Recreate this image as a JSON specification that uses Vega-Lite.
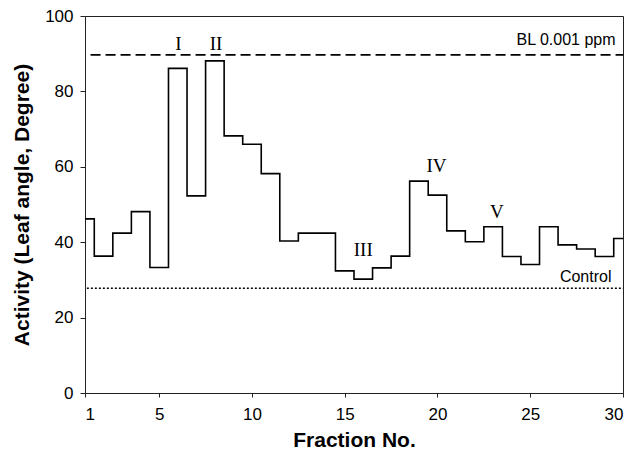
{
  "$schema": "https://vega.github.io/schema/vega-lite/v6.json",
  "autosize": {"type": "none"},
  "padding": {"left": 85, "top": 16, "right": 15, "bottom": 66},
  "width": 538,
  "height": 377,
  "background": "white",
  "config": {
    "view": {"stroke": "#222", "strokeWidth": 1},
    "axis": {
      "grid": false,
      "domainColor": "#222",
      "tickColor": "#222",
      "labelColor": "black",
      "titleColor": "black",
      "labelFont": "Liberation Sans",
      "labelFontSize": 17,
      "titleFont": "Liberation Sans",
      "titleFontSize": 21,
      "titleFontWeight": "bold"
    }
  },
  "datasets": {
    "activity": [
      {"fraction": 1, "activity": 46.2},
      {"fraction": 2, "activity": 36.3},
      {"fraction": 3, "activity": 42.4},
      {"fraction": 4, "activity": 48.1},
      {"fraction": 5, "activity": 33.3},
      {"fraction": 6, "activity": 86.1},
      {"fraction": 7, "activity": 52.3},
      {"fraction": 8, "activity": 88.1},
      {"fraction": 9, "activity": 68.2},
      {"fraction": 10, "activity": 66.0},
      {"fraction": 11, "activity": 58.2},
      {"fraction": 12, "activity": 40.3},
      {"fraction": 13, "activity": 42.4},
      {"fraction": 14, "activity": 42.4},
      {"fraction": 15, "activity": 32.4},
      {"fraction": 16, "activity": 30.2},
      {"fraction": 17, "activity": 33.2},
      {"fraction": 18, "activity": 36.3},
      {"fraction": 19, "activity": 56.2},
      {"fraction": 20, "activity": 52.5},
      {"fraction": 21, "activity": 43.0},
      {"fraction": 22, "activity": 40.1},
      {"fraction": 23, "activity": 44.1},
      {"fraction": 24, "activity": 36.2},
      {"fraction": 25, "activity": 34.1},
      {"fraction": 26, "activity": 44.1},
      {"fraction": 27, "activity": 39.3},
      {"fraction": 28, "activity": 38.2},
      {"fraction": 29, "activity": 36.2},
      {"fraction": 30, "activity": 41.0}
    ],
    "refs": [
      {"name": "BL 0.001 ppm", "start": 1.3, "end": 30, "level": 89.7},
      {"name": "Control", "start": 1.1, "end": 30, "level": 27.8}
    ],
    "peaks": [
      {"label": "I", "fraction": 6.03, "activity": 91.0},
      {"label": "II", "fraction": 8.06, "activity": 91.0},
      {"label": "III", "fraction": 16.0, "activity": 36.3},
      {"label": "IV", "fraction": 19.95, "activity": 58.7},
      {"label": "V", "fraction": 23.2, "activity": 46.3}
    ],
    "reflabels": [
      {"text": "BL 0.001 ppm", "fraction": 29.6, "activity": 92.3},
      {"text": "Control", "fraction": 29.38, "activity": 29.5}
    ]
  },
  "layer": [
    {
      "data": {"name": "activity"},
      "mark": {"type": "line", "interpolate": "step", "color": "black", "strokeWidth": 1.6},
      "encoding": {
        "x": {
          "field": "fraction",
          "type": "quantitative",
          "scale": {"domain": [1, 30], "nice": false, "zero": false},
          "axis": {
            "title": "Fraction No.",
            "values": [1, 5, 10, 15, 20, 25, 30],
            "tickSize": 4,
            "labelPadding": 9,
            "titlePadding": 7
          }
        },
        "y": {
          "field": "activity",
          "type": "quantitative",
          "scale": {"domain": [0, 100], "nice": false},
          "axis": {
            "title": "Activity (Leaf angle, Degree)",
            "values": [0, 20, 40, 60, 80, 100],
            "tickSize": 5,
            "labelPadding": 7,
            "titlePadding": 12
          }
        }
      }
    },
    {
      "data": {"name": "refs"},
      "mark": {"type": "rule", "color": "black", "strokeWidth": 1.6},
      "encoding": {
        "x": {"field": "start", "type": "quantitative"},
        "x2": {"field": "end"},
        "y": {"field": "level", "type": "quantitative"},
        "strokeDash": {
          "field": "name",
          "type": "nominal",
          "scale": {"domain": ["BL 0.001 ppm", "Control"], "range": [[10, 5], [2, 2]]},
          "legend": null
        }
      }
    },
    {
      "data": {"name": "peaks"},
      "mark": {"type": "text", "font": "Liberation Serif", "fontSize": 19, "baseline": "alphabetic", "align": "center", "color": "black"},
      "encoding": {
        "x": {"field": "fraction", "type": "quantitative"},
        "y": {"field": "activity", "type": "quantitative"},
        "text": {"field": "label"}
      }
    },
    {
      "data": {"name": "reflabels"},
      "mark": {"type": "text", "font": "Liberation Sans", "fontSize": 16, "baseline": "alphabetic", "align": "right", "color": "black"},
      "encoding": {
        "x": {"field": "fraction", "type": "quantitative"},
        "y": {"field": "activity", "type": "quantitative"},
        "text": {"field": "text"}
      }
    }
  ]
}
